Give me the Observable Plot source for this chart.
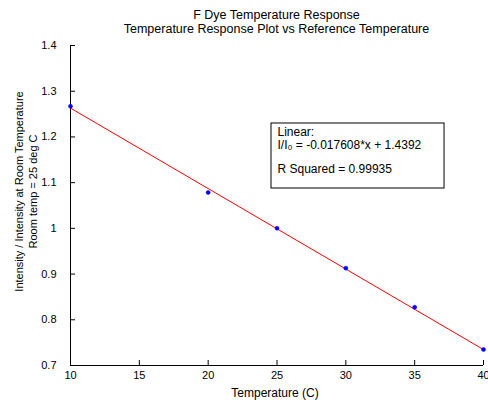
<!DOCTYPE html>
<html>
<head>
<meta charset="utf-8">
<script src="https://cdn.jsdelivr.net/npm/d3@7"></script>
<script src="https://cdn.jsdelivr.net/npm/@observablehq/plot@0.6"></script>
<style>
  html, body { margin: 0; padding: 0; background: #fff; }
  #wrap { width: 488px; height: 402px; overflow: hidden; font-family: "Liberation Sans", Arial, sans-serif; }
  #title { box-sizing: border-box; width: 488px; height: 38px; padding: 8px 5px 0 70px; text-align: center; font-size: 12.5px; line-height: 14px; color: #000; }
  svg { display: block; }
</style>
</head>
<body>
<div id="wrap">
  <div id="title">F Dye Temperature Response<br>Temperature Response Plot vs Reference Temperature</div>
  <div id="chart"></div>
</div>
<script>
// Data
const temperature = [10, 20, 25, 30, 35, 40];
const intensityRatio = [1.267, 1.0785, 1.000, 0.913, 0.8275, 0.735];

// Linear fit reported on the chart
const fitSlope = -0.017608;
const fitIntercept = 1.4392;
const fitRange = [10, 40];
const rSquared = 0.99935;

// Axis ticks
const xTicks = [10, 15, 20, 25, 30, 35, 40];
const yTicks = [0.7, 0.8, 0.9, 1.0, 1.1, 1.2, 1.3, 1.4];
const yTickLabels = ["0.7", "0.8", "0.9", "1", "1.1", "1.2", "1.3", "1.4"];

// Annotation box (data coordinates of its corners)
const boxX = [24.6, 37.17];
const boxY = [1.0872, 1.2294];
const boxLines = ["Linear:", "I/I\u2080 = -0.017608*x + 1.4392", "R Squared = " + rSquared];
const boxLineOffsets = [13, 26, 50];

const points = temperature.map((t, i) => ({t, r: intensityRatio[i]}));
const fitLine = fitRange.map(t => ({t, r: fitSlope * t + fitIntercept}));

const font = "Liberation Sans, Arial, sans-serif";

const boxTextMarks = boxLines.map((line, i) =>
  Plot.text([line], {x: () => boxX[0], y: () => boxY[1], text: d => d, dx: 6, dy: boxLineOffsets[i], textAnchor: "start", lineAnchor: "bottom", fontSize: 12, fill: "#000"})
);

const chart = Plot.plot({
  width: 488,
  height: 364,
  marginLeft: 70,
  marginRight: 5,
  marginTop: 7,
  marginBottom: 37,
  style: {fontFamily: font, fontSize: "11px", color: "#000", background: "#fff", overflow: "visible"},
  x: {domain: [10, 40]},
  y: {domain: [0.7, 1.4]},
  marks: [
    Plot.axisX({ticks: xTicks, tickSize: -5, tickPadding: 11, label: null, stroke: "#000", fontSize: 11}),
    Plot.axisY({ticks: yTicks, tickFormat: (d) => yTickLabels[yTicks.indexOf(+d.toFixed(1))], tickSize: -5, tickPadding: 19, label: null, stroke: "#000", fontSize: 11}),
    Plot.ruleX([10], {stroke: "#000", strokeWidth: 1}),
    Plot.ruleY([0.7], {stroke: "#000", strokeWidth: 1}),
    Plot.line(fitLine, {x: "t", y: "r", stroke: "#ff0000", strokeWidth: 1}),
    Plot.dot(points, {x: "t", y: "r", r: 2, fill: "#0000ff", stroke: "#0000ff", strokeWidth: 0.5}),
    Plot.rect([{}], {x1: () => boxX[0], x2: () => boxX[1], y1: () => boxY[0], y2: () => boxY[1], fill: "#fff", stroke: "#000", strokeWidth: 1}),
    ...boxTextMarks,
    Plot.text(["Temperature (C)"], {frameAnchor: "bottom", text: d => d, dy: 28, dx: -2, lineAnchor: "middle", fontSize: 12, fill: "#000"}),
    Plot.text(["Intensity / Intensity at Room Temperature\nRoom temp = 25 deg C"], {frameAnchor: "left", text: d => d, rotate: -90, dx: -45, dy: -14, textAnchor: "middle", lineAnchor: "middle", lineHeight: 1.27, fontSize: 11, fill: "#000"})
  ]
});
document.getElementById("chart").appendChild(chart);
</script>
</body>
</html>
